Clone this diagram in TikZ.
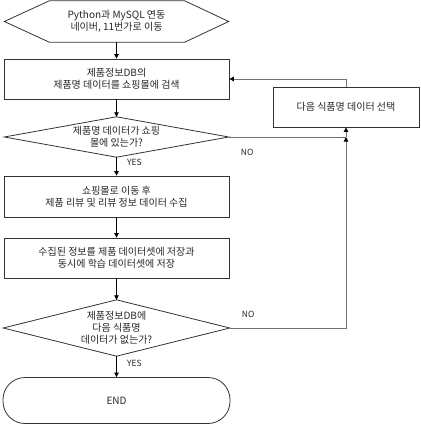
\documentclass[tikz,border=0pt]{standalone}
\usepackage{fontspec}
\setmainfont{Noto Sans CJK KR}
\usetikzlibrary{arrows.meta,calc}
\begin{document}
\begin{tikzpicture}[x=1pt,y=-1pt,
  base/.style={inner sep=0pt, align=center, font=\fontsize{10}{12}\selectfont, text=black!85},
  frame/.style={base, rectangle},
  boxn/.style={base, rectangle, draw=black!80, line width=0.8pt},
  outl/.style={draw=black!80, line width=0.8pt},
  arr/.style={draw=black, line width=0.8pt, -{Triangle[length=4.5pt,width=4.5pt]}},
  looparr/.style={draw=black!55, line width=0.8pt, -{Triangle[length=4.5pt,width=4.5pt,color=black]}},
  loopline/.style={draw=black!55, line width=0.8pt},
  lab/.style={font=\fontsize{8.5}{10}\selectfont, text=black!85, inner sep=0pt}]
\useasboundingbox (0,0) rectangle (420,425);

% nodes
\node[frame, minimum width=224pt, minimum height=41pt] (start) at (116.5,21.5) {Python과 MySQL 연동\\네이버, 11번가로 이동};
\draw[outl] (start.west) -- ($(start.north west)+(45,0)$) -- ($(start.north east)+(-44,0)$) -- (start.east)
  -- ($(start.south east)+(-44,0)$) -- ($(start.south west)+(45,0)$) -- cycle;

\node[boxn, minimum width=225pt, minimum height=40pt] (r1) at (116.5,79) {제품정보DB의\\제품명 데이터를 쇼핑몰에 검색};

\node[frame, minimum width=224pt, minimum height=40pt] (d1) at (116.5,137) {제품명 데이터가 쇼핑\\몰에 있는가?};
\draw[outl] (d1.north) -- (d1.east) -- (d1.south) -- (d1.west) -- cycle;

\node[boxn, minimum width=225pt, minimum height=41pt] (r2) at (116.5,196.5) {쇼핑몰로 이동 후\\제품 리뷰 및 리뷰 정보 데이터 수집};

\node[boxn, minimum width=225pt, minimum height=40pt] (r3) at (116.5,258) {수집된 정보를 제품 데이터셋에 저장과\\동시에 학습 데이터셋에 저장};

\node[frame, minimum width=226pt, minimum height=56pt] (d2) at (116.5,328) {제품정보DB에\\다음 식품명\\데이터가 없는가?};
\draw[outl] (d2.north) -- (d2.east) -- (d2.south) -- (d2.west) -- cycle;

\node[boxn, rounded corners=22pt, minimum width=227pt, minimum height=46pt] (endn) at (116.5,400.5) {END};

\node[boxn, minimum width=146pt, minimum height=40pt] (next) at (346,107) {다음 식품명 데이터 선택};

% main connectors
\draw[arr] (start.south) -- (r1.north);
\draw[arr] (r1.south) -- (d1.north);
\draw[arr] (d1.south) -- (r2.north);
\draw[arr] (r2.south) -- (r3.north);
\draw[arr] (r3.south) -- (d2.north);
\draw[arr] (d2.south) -- (endn.north);

% loop connectors
\coordinate (j1) at (d1.east -| next.south);
\coordinate (j2) at (d2.east -| next.south);
\coordinate (j3) at (next.north |- r1.east);
\draw[loopline] (d1.east) -- (j1);
\draw[looparr] (j1) -- (next.south);
\draw[looparr] (d2.east) -- (j2) -- (j1);
\draw[looparr] (next.north) -- (j3) -- (r1.east);

% labels
\node[lab, anchor=west] (yes1) at ($(d1.south)+(10.5,5)$) {YES};
\node[lab, anchor=west] (yes2) at ($(d2.south)+(10.5,7)$) {YES};
\node[lab, anchor=west] (no1) at ($(d1.east)+(12,15)$) {NO};
\node[lab, anchor=west] (no2) at ($(d2.east)+(12,-14)$) {NO};
\end{tikzpicture}
\end{document}
